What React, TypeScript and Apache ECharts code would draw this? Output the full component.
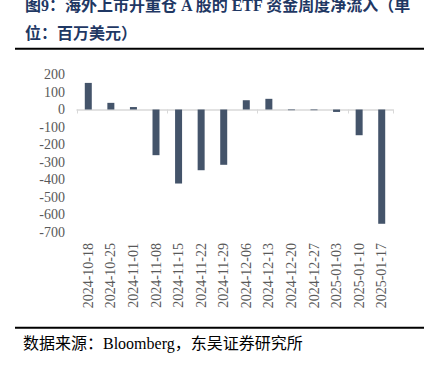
import React, { useEffect, useRef } from "react";
import * as echarts from "echarts";

const categories = [
  "2024-10-18", "2024-10-25", "2024-11-01", "2024-11-08", "2024-11-15",
  "2024-11-22", "2024-11-29", "2024-12-06", "2024-12-13", "2024-12-20",
  "2024-12-27", "2025-01-03", "2025-01-10", "2025-01-17",
];
const netInflow = [152, 38, 14, -261, -423, -347, -316, 53, 61, -4, -4, -14, -147, -653];
const yMin = -700;
const yMax = 200;
const yInterval = 100;
const titleLine1 = "图9：海外上市开重仓 A 股的 ETF 资金周度净流入（单";
const titleLine2 = "位：百万美元）";
const sourceText = "数据来源：Bloomberg，东吴证券研究所";

const serif = "'Liberation Serif', 'Times New Roman', 'Noto Sans CJK SC', serif";

export default function App() {
  const ref = useRef<HTMLDivElement>(null);
  useEffect(() => {
    if (!ref.current) return;
    const chart = echarts.init(ref.current, null, { renderer: "svg" });
    chart.setOption({
      animation: false,
      backgroundColor: "#ffffff",
      grid: { left: 77, right: 37, top: 74.5, height: 157.5 },
      xAxis: [
        {
          type: "category",
          data: categories,
          axisLine: { onZero: true, lineStyle: { color: "#d9d9d9", width: 1.5 } },
          axisTick: { show: true, length: 4, lineStyle: { color: "#d9d9d9" } },
          axisLabel: { show: false },
        },
        {
          type: "category",
          data: categories,
          position: "bottom",
          axisLine: { show: false, onZero: false },
          axisTick: { show: false },
          axisLabel: {
            rotate: 90,
            margin: 11,
            interval: 0,
            color: "#595959",
            fontSize: 14,
            fontFamily: serif,
          },
        },
      ],
      yAxis: {
        type: "value",
        min: yMin,
        max: yMax,
        interval: yInterval,
        axisLine: { show: false },
        axisTick: { show: false },
        splitLine: { show: false },
        axisLabel: { color: "#595959", fontSize: 14, fontFamily: serif, margin: 12 },
      },
      series: [
        {
          type: "bar",
          data: netInflow,
          barWidth: 7,
          itemStyle: { color: "#44546a" },
        },
      ],
      graphic: [
        {
          type: "text",
          left: 25,
          top: -3,
          style: { text: titleLine1, fontSize: 16, fontWeight: "bold", fill: "#1f3864", fontFamily: serif },
        },
        {
          type: "text",
          left: 25,
          top: 25,
          style: { text: titleLine2, fontSize: 16, fontWeight: "bold", fill: "#1f3864", fontFamily: serif },
        },
        {
          type: "line",
          shape: { x1: 15, y1: 48.8, x2: 424, y2: 48.8 },
          style: { stroke: "#000", lineWidth: 2 },
        },
        {
          type: "line",
          shape: { x1: 15, y1: 327.8, x2: 424, y2: 327.8 },
          style: { stroke: "#000", lineWidth: 2 },
        },
        {
          type: "text",
          left: 23,
          top: 335,
          style: { text: sourceText, fontSize: 16, fill: "#000", fontFamily: serif },
        },
      ],
    });
    return () => chart.dispose();
  }, []);
  return <div ref={ref} style={{ width: 430, height: 368, position: "absolute", left: 0, top: 0 }} />;
}
